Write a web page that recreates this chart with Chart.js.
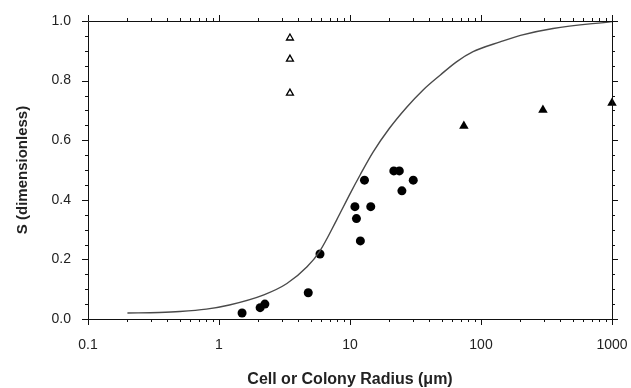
<!DOCTYPE html>
<html>
<head>
<meta charset="utf-8">
<script src="https://cdn.jsdelivr.net/npm/chart.js@4/dist/chart.umd.min.js"></script>
<style>
html,body{margin:0;padding:0;background:#fff;}
#wrap{width:631px;height:388px;position:relative;}
</style>
</head>
<body>
<div id="wrap"><canvas id="c" width="631" height="388"></canvas></div>
<script>
// Model curve
const curveX = [0.2, 0.35, 0.5, 0.8, 1.2, 2.2, 3.3, 4.7, 5.9, 7.9, 10, 12, 15, 20, 27, 36, 49, 65, 87, 140, 200, 355, 1000];
const curveY = [0.02, 0.022, 0.025, 0.033, 0.047, 0.081, 0.119, 0.175, 0.229, 0.332, 0.42, 0.485, 0.56, 0.64, 0.71, 0.768, 0.819, 0.863, 0.897, 0.93, 0.952, 0.975, 0.998];
// Filled circles
const circleX = [1.5, 2.06, 2.24, 4.8, 5.9, 10.9, 11.2, 12.0, 12.9, 14.4, 21.6, 23.8, 24.9, 30.4];
const circleY = [0.02, 0.038, 0.05, 0.088, 0.218, 0.377, 0.337, 0.262, 0.466, 0.377, 0.497, 0.497, 0.43, 0.466];
// Open triangles
const openTriX = [3.48, 3.48, 3.48];
const openTriY = [0.943, 0.872, 0.758];
// Filled triangles
const fillTriX = [74, 297, 1000];
const fillTriY = [0.648, 0.701, 0.725];
// Tick labels
const xTickValues = [0.1, 1, 10, 100, 1000];
const xTickLabels = ['0.1', '1', '10', '100', '1000'];
const yTickValues = [0, 0.2, 0.4, 0.6, 0.8, 1.0];
const yTickLabels = ['0.0', '0.2', '0.4', '0.6', '0.8', '1.0'];

const pts = (xs, ys) => xs.map((x, i) => ({x: x, y: ys[i]}));

const framePlugin = {
  id: 'frame',
  afterDraw(chart) {
    const ctx = chart.ctx;
    const xs = chart.scales.x, ys = chart.scales.y;
    const a = chart.chartArea;
    ctx.save();
    ctx.strokeStyle = '#111';
    ctx.lineWidth = 1;
    ctx.beginPath();
    ctx.rect(Math.round(a.left) + 0.5, Math.round(a.top) + 0.5, Math.round(a.right - a.left), Math.round(a.bottom - a.top));
    ctx.stroke();
    ctx.beginPath();
    for (let d = -1; d <= 3; d++) {
      for (let m = 1; m <= 9; m++) {
        const v = m * Math.pow(10, d);
        if (v > 1000 + 1e-9) break;
        const px = Math.round(xs.getPixelForValue(v)) + 0.5;
        const len = (m === 1) ? 6 : 3;
        ctx.moveTo(px, a.bottom); ctx.lineTo(px, a.bottom + len);
        ctx.moveTo(px, a.top); ctx.lineTo(px, a.top - len);
      }
    }
    for (let i = 0; i <= 20; i++) {
      const v = i * 0.05;
      const py = Math.round(ys.getPixelForValue(v)) + 0.5;
      const len = (i % 4 === 0) ? 6 : 3;
      ctx.moveTo(a.left, py); ctx.lineTo(a.left - len, py);
      ctx.moveTo(a.right, py); ctx.lineTo(a.right + len, py);
    }
    ctx.stroke();
    ctx.restore();
  }
};

new Chart(document.getElementById('c'), {
  type: 'scatter',
  data: {
    datasets: [
      {
        type: 'line',
        data: pts(curveX, curveY),
        borderColor: '#4a4a4a',
        borderWidth: 1.4,
        pointRadius: 0,
        fill: false,
        cubicInterpolationMode: 'monotone'
      },
      {
        data: pts(circleX, circleY),
        pointStyle: 'circle',
        pointRadius: 4.5,
        backgroundColor: '#000',
        borderColor: '#000',
        borderWidth: 0
      },
      {
        data: pts(openTriX, openTriY),
        pointStyle: 'triangle',
        pointRadius: 4,
        backgroundColor: '#fff',
        borderColor: '#000',
        borderWidth: 1.3
      },
      {
        data: pts(fillTriX, fillTriY),
        pointStyle: 'triangle',
        pointRadius: 5.5,
        backgroundColor: '#000',
        borderColor: '#000',
        borderWidth: 0
      }
    ]
  },
  options: {
    responsive: false,
    animation: false,
    events: [],
    clip: false,
    layout: {padding: {left: 0, top: 21, right: 19, bottom: 0}},
    plugins: {legend: {display: false}, tooltip: {enabled: false}},
    scales: {
      x: {
        type: 'logarithmic',
        min: 0.1, max: 1000,
        grid: {display: false, drawTicks: false},
        border: {display: false},
        afterBuildTicks: s => { s.ticks = xTickValues.map(v => ({value: v})); },
        afterFit: s => { s.height = 69; s.paddingLeft = 0; s.paddingRight = 0; },
        ticks: {
          autoSkip: false, maxRotation: 0, padding: 18,
          color: '#222',
          font: {family: '"Liberation Sans", Arial, sans-serif', size: 14},
          callback: (v) => { const i = xTickValues.indexOf(v); return i >= 0 ? xTickLabels[i] : ''; }
        },
        title: {
          display: true,
          text: 'Cell or Colony Radius (μm)',
          color: '#222',
          font: {family: '"Liberation Sans", Arial, sans-serif', size: 16, weight: 'bold', lineHeight: 1},
          padding: {top: 0, bottom: 0}
        }
      },
      y: {
        type: 'linear',
        min: 0, max: 1,
        grid: {display: false, drawTicks: false},
        border: {display: false},
        afterBuildTicks: s => { s.ticks = yTickValues.map(v => ({value: v})); },
        afterFit: s => { s.width = 88; s.paddingTop = 0; s.paddingBottom = 0; },
        ticks: {
          padding: 17,
          color: '#222',
          font: {family: '"Liberation Sans", Arial, sans-serif', size: 14},
          callback: (v) => { const i = yTickValues.findIndex(t => Math.abs(t - v) < 1e-9); return i >= 0 ? yTickLabels[i] : ''; }
        },
        title: {
          display: true,
          text: 'S (dimensionless)',
          color: '#222',
          font: {family: '"Liberation Sans", Arial, sans-serif', size: 15, weight: 'bold', lineHeight: 1},
          padding: {top: 15, bottom: 0}
        }
      }
    }
  },
  plugins: [framePlugin]
});
</script>
</body>
</html>
